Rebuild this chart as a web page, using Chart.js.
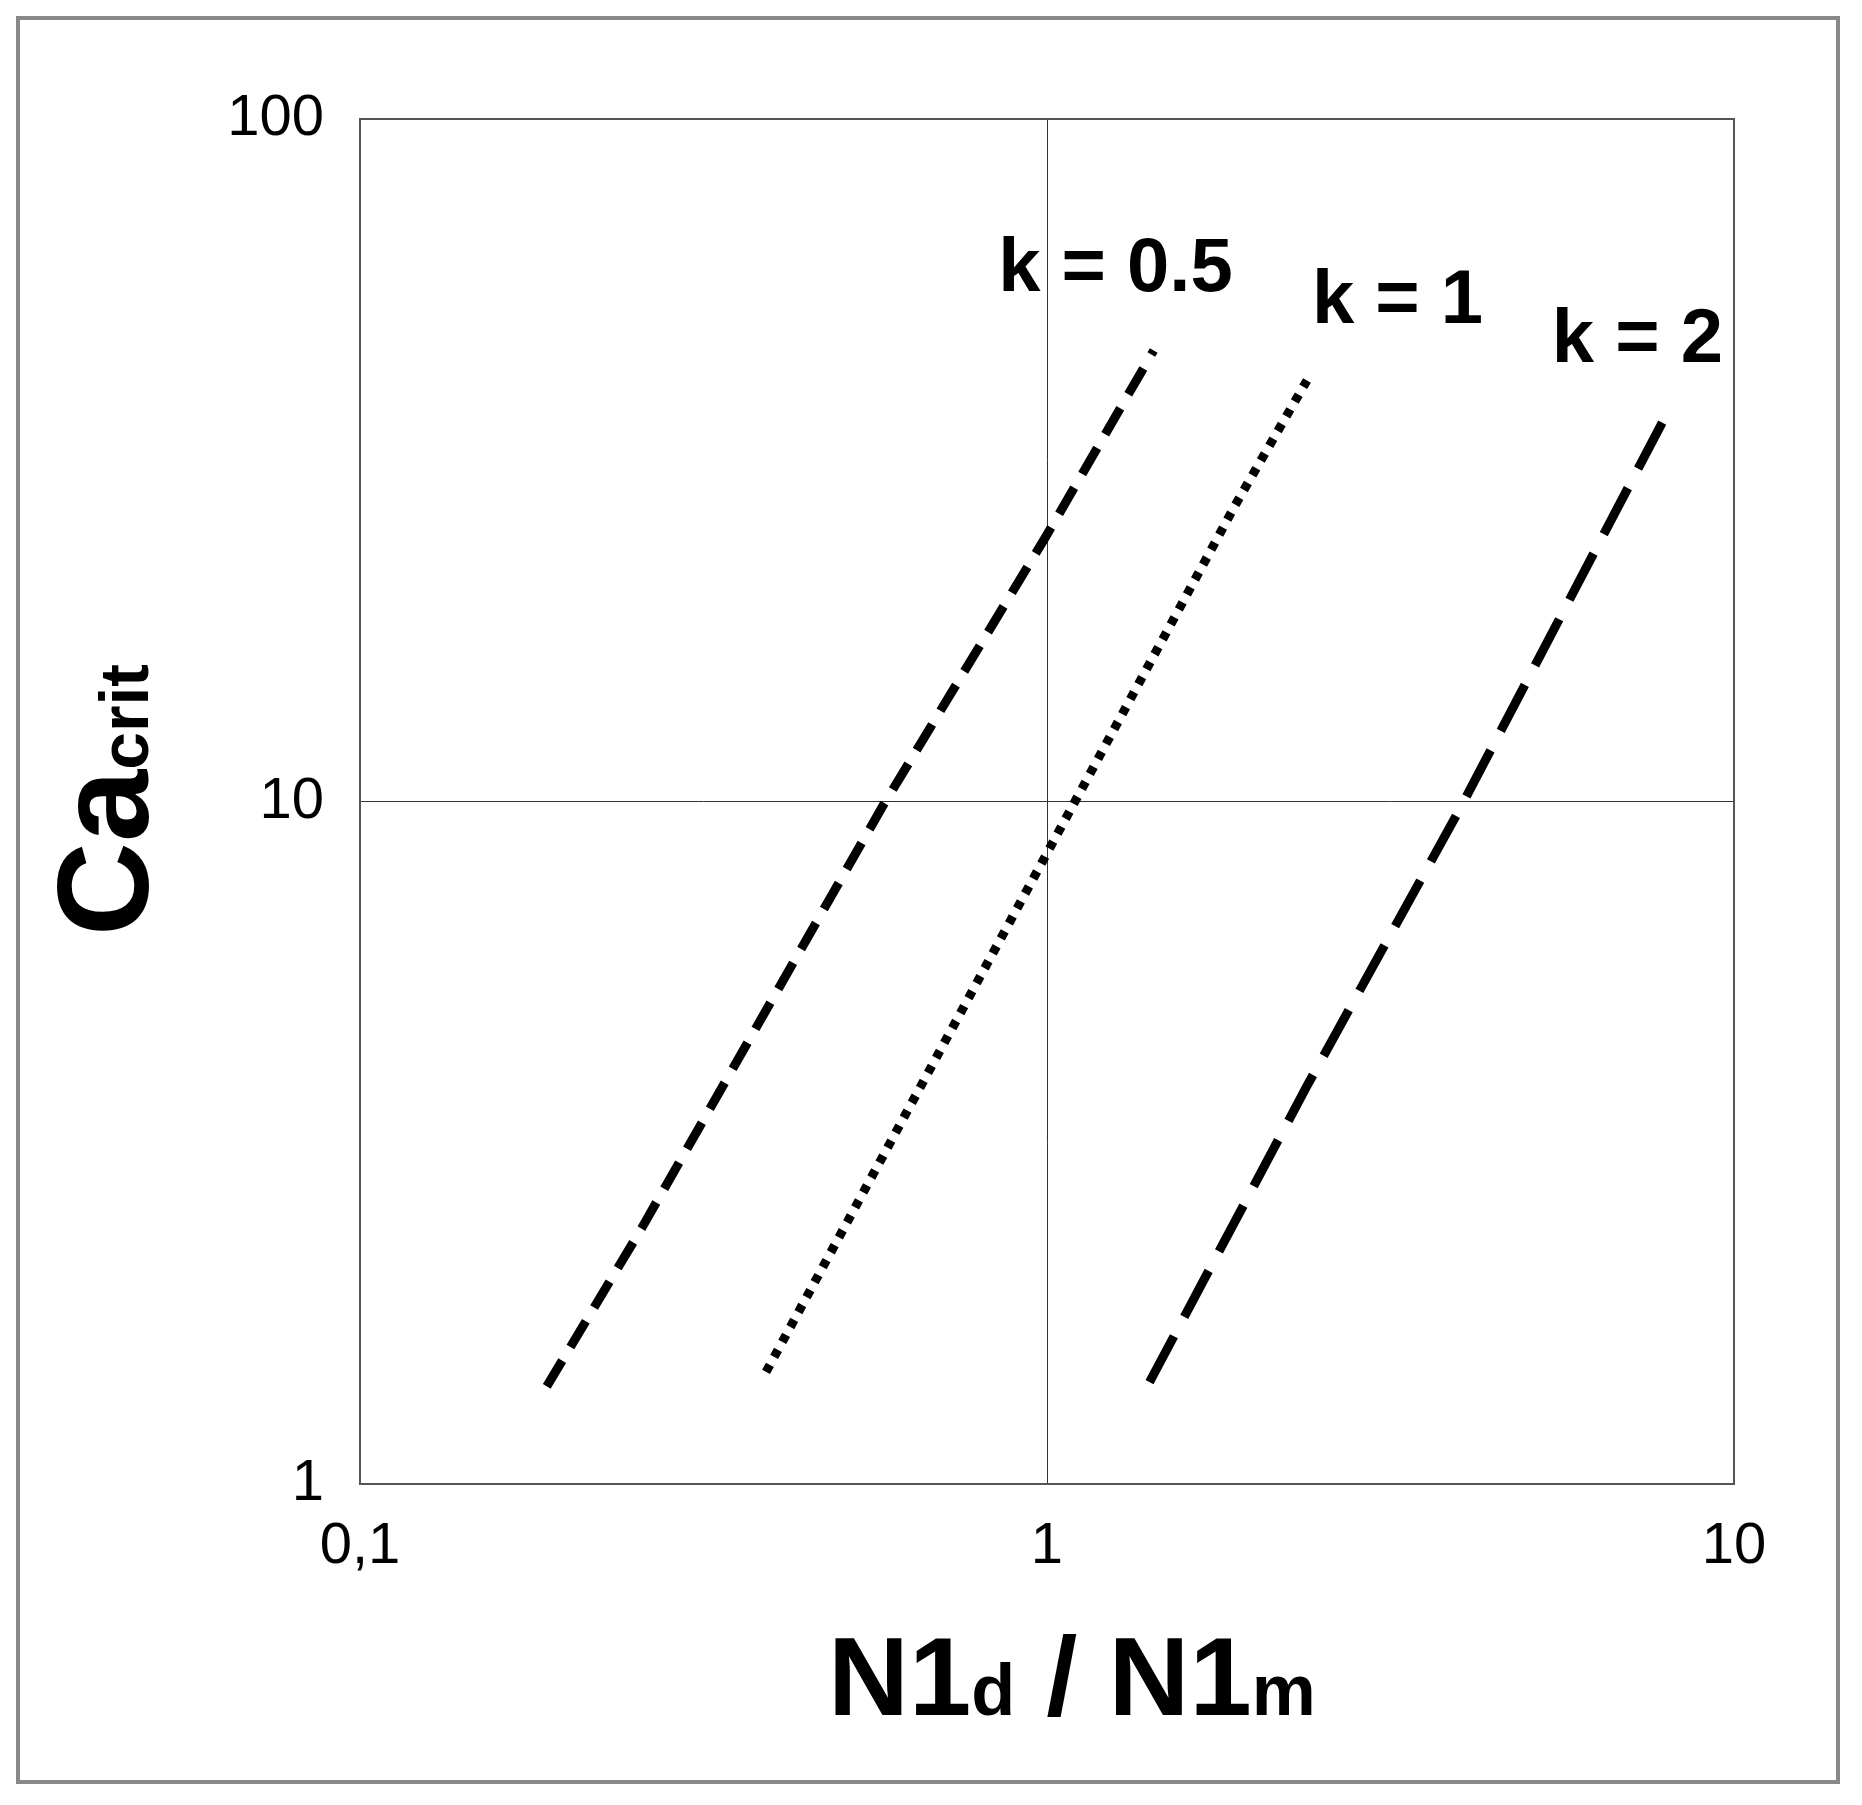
<!DOCTYPE html>
<html><head><meta charset="utf-8">
<script src="https://cdn.jsdelivr.net/npm/chart.js@4"></script>
<style>
html,body{margin:0;padding:0;background:#fff;}
#wrap{position:absolute;left:0;top:0;width:1862px;height:1805px;}
#frame{position:absolute;left:16px;top:16px;width:1824px;height:1768px;border:4px solid #888;box-sizing:border-box;}
canvas{position:absolute;left:0;top:0;}
</style></head><body>
<div id="wrap"><div id="frame"></div><canvas id="c" width="1862" height="1805"></canvas></div>
<script>
const seriesNames = ["k = 0.5", "k = 1", "k = 2"];
const xK05 = [0.187, 0.257, 0.575, 1.0, 1.43];
const yK05 = [1.39, 2.37, 9.8, 24.6, 45.8];
const xK1 = [0.39, 1.0, 1.88, 2.39];
const yK1 = [1.46, 8.4, 27.2, 41.4];
const xK2 = [1.41, 2.39, 4.0, 8.13];
const yK2 = [1.41, 3.83, 9.8, 38.3];
const labelX = [0.849, 2.43, 5.43];
const labelY = [56, 50.3, 44.1];
const xTicks = [0.1, 1, 10];
const xTickLabels = ["0,1", "1", "10"];
const yTicks = [1, 10, 100];
const yTickLabels = ["1", "10", "100"];

const pts = (xs, ys) => xs.map((x, i) => ({x, y: ys[i]}));
const dashes = [[30, 16], [8, 9], [52, 22]];
const allX = [xK05, xK1, xK2], allY = [yK05, yK1, yK2];
const datasets = allX.map((xs, i) => ({
  label: seriesNames[i], data: pts(xs, allY[i]), showLine: true,
  borderColor: '#000', borderWidth: 9, borderDash: dashes[i], pointRadius: 0, tension: 0
}));

const extras = {
  id: 'extras',
  afterDraw(chart) {
    const {ctx, chartArea: a, scales: {x, y}} = chart;
    ctx.save();
    ctx.strokeStyle = '#555'; ctx.lineWidth = 2;
    ctx.strokeRect(a.left, a.top, a.right - a.left, a.bottom - a.top);
    ctx.fillStyle = '#000';
    ctx.font = 'bold 76px "Liberation Sans", Arial, sans-serif';
    ctx.textBaseline = 'alphabetic'; ctx.textAlign = 'left';
    seriesNames.forEach((n, i) => ctx.fillText(n, x.getPixelForValue(labelX[i]), y.getPixelForValue(labelY[i])));
    const parts = [['N1', 112], ['d', 72], [' / ', 112], ['N1', 112], ['m', 72]];
    let w = 0;
    parts.forEach(p => { ctx.font = `bold ${p[1]}px "Liberation Sans", Arial`; w += ctx.measureText(p[0]).width; });
    let cx = 828;
    parts.forEach(p => { ctx.font = `bold ${p[1]}px "Liberation Sans", Arial`; ctx.fillText(p[0], cx, 1715); cx += ctx.measureText(p[0]).width; });
    ctx.translate(148, 800); ctx.rotate(-Math.PI / 2);
    const yp = [['Ca', 130], ['crit', 68]];
    let yw = 0;
    yp.forEach(p => { ctx.font = `bold ${p[1]}px "Liberation Sans", Arial`; yw += ctx.measureText(p[0]).width; });
    let yx = -yw / 2;
    yp.forEach(p => { ctx.font = `bold ${p[1]}px "Liberation Sans", Arial`; ctx.fillText(p[0], yx, 0); yx += ctx.measureText(p[0]).width; });
    ctx.restore();
  }
};

new Chart(document.getElementById('c'), {
  type: 'scatter',
  data: {datasets},
  options: {
    responsive: false, animation: false, devicePixelRatio: 1,
    layout: {padding: {left: 0, top: 119, right: 128, bottom: 0}},
    plugins: {legend: {display: false}, tooltip: {enabled: false}},
    scales: {
      x: {
        type: 'logarithmic', min: 0.1, max: 10,
        afterBuildTicks: s => { s.ticks = xTicks.map(v => ({value: v})); },
        afterFit: s => { s.height = 321; },
        ticks: {color: '#000', padding: 28, font: {size: 58, family: '"Liberation Sans", Arial'},
          callback: v => xTickLabels[xTicks.indexOf(v)] ?? '', maxRotation: 0, autoSkip: false},
        grid: {color: '#333', lineWidth: 1, tickLength: 0, drawTicks: false},
        border: {display: false}
      },
      y: {
        type: 'logarithmic', min: 1, max: 100,
        afterBuildTicks: s => { s.ticks = yTicks.map(v => ({value: v})); },
        afterFit: s => { s.width = 360; },
        ticks: {color: '#000', padding: 36, font: {size: 58, family: '"Liberation Sans", Arial'},
          callback: v => yTickLabels[yTicks.indexOf(v)] ?? '', autoSkip: false},
        grid: {color: '#333', lineWidth: 1, tickLength: 0, drawTicks: false},
        border: {display: false}
      }
    }
  },
  plugins: [extras]
});
</script></body></html>
